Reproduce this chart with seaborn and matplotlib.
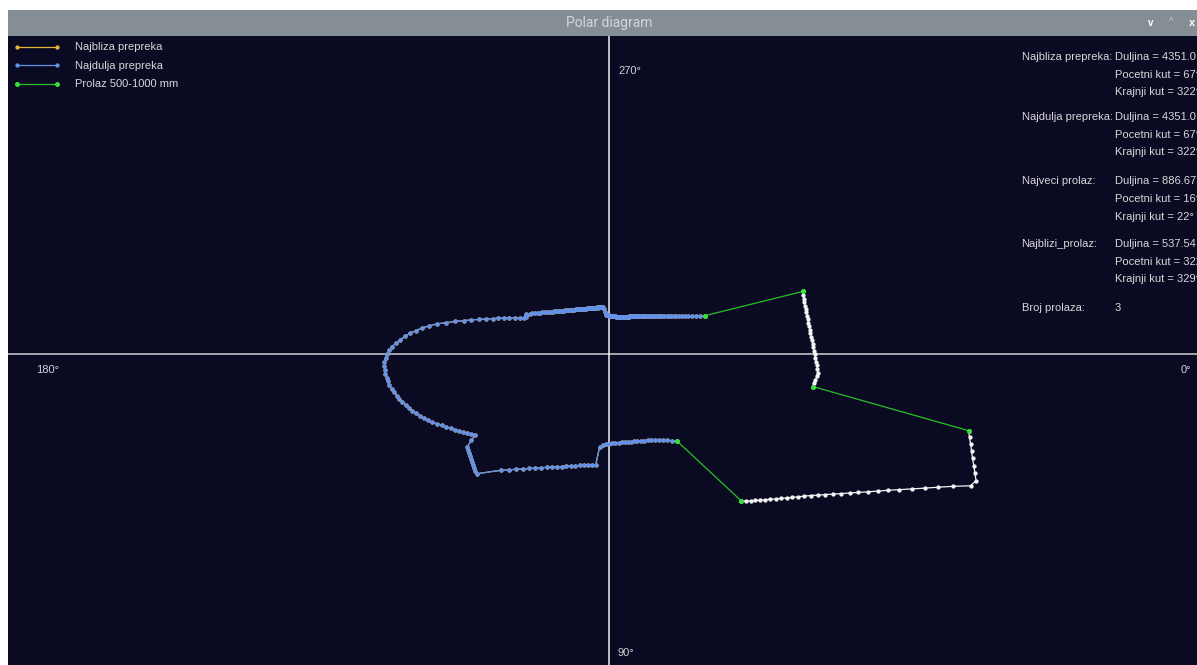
import numpy as np
import pandas as pd
import matplotlib
matplotlib.use("Agg")
import matplotlib.pyplot as plt
from matplotlib.patches import Rectangle
import seaborn as sns

# ---------------- data (scan angle in degrees, 0° = right, 90° = down; distance in cm) ----------------
# right-bottom obstacle (white)
obst_b_angles = list(range(12, 49))
obst_b_dist = [367.3, 369.7, 372.4, 375.1, 377.9, 381.2, 384.4, 387.9, 384.5, 368.3,
               354.8, 342.5, 331.0, 320.2, 310.2, 301.3, 292.9, 284.9, 277.4, 270.5,
               263.8, 257.6, 251.8, 246.2, 241.2, 236.8, 232.4, 228.2, 224.2, 220.4,
               216.7, 213.2, 209.9, 206.6, 203.5, 200.6, 197.4]

# longest / nearest obstacle (blue)
blue_lower_angles = list(range(52, 97, 2))
blue_lower_dist = [110.4, 106.7, 103.5, 101.1, 99.0, 97.1, 95.5, 94.1, 93.0, 91.9, 91.2, 90.5,
                   90.0, 89.5, 89.2, 88.9, 88.8, 88.8, 89.1, 89.3, 90.1, 91.0, 93.5]
blue_bottom_angles = list(range(97, 134, 2))
blue_bottom_dist = [111.1, 111.9, 112.8, 113.8, 115.1, 116.5, 118.0, 119.9, 121.9, 124.1,
                    126.6, 129.3, 132.3, 135.7, 139.4, 143.5, 148.0, 153.0, 158.5]
blue_left_angles = list(range(138, 206))
blue_left_dist = [178.5, 177.5, 176.5, 175.4, 174.5, 173.5, 172.5, 171.5, 170.5, 169.3,
                  162.5, 157.0, 160.0, 163.0, 166.0, 168.9, 171.9, 175.1, 178.5, 181.7,
                  185.6, 189.8, 193.2, 196.0, 198.9, 202.0, 205.0, 207.3, 209.8, 212.4,
                  214.8, 216.6, 218.5, 220.5, 222.0, 222.9, 223.9, 225.1, 225.2, 225.3,
                  225.1, 223.7, 222.4, 219.9, 217.8, 213.5, 209.4, 204.8, 200.5, 194.7,
                  189.3, 182.2, 175.0, 165.9, 157.9, 149.5, 142.3, 134.7, 128.0, 122.0,
                  116.7, 111.8, 106.8, 101.4, 96.5, 92.2, 91.4, 91.6]
blue_top_angles = list(range(206, 339))
blue_top_dist = [92.2, 89.4, 87.1, 84.8, 82.8, 80.8, 78.9, 77.1, 75.5, 73.9,
                 72.5, 71.0, 69.7, 68.5, 67.2, 66.1, 65.0, 64.1, 63.0, 62.2,
                 61.3, 60.4, 59.6, 58.8, 58.1, 57.4, 56.7, 56.1, 55.5, 54.9,
                 54.4, 53.9, 53.4, 53.0, 52.5, 52.1, 51.8, 51.4, 51.1, 50.8,
                 50.4, 50.1, 49.8, 49.6, 49.4, 49.2, 48.9, 48.7, 48.6, 48.5,
                 48.2, 48.1, 48.1, 47.9, 47.8, 47.8, 47.7, 45.4, 42.2, 39.4,
                 39.3, 39.2, 39.0, 38.9, 38.8, 38.8, 38.7, 38.7, 38.6, 38.7,
                 38.5, 38.5, 38.4, 38.3, 38.3, 38.3, 38.3, 38.4, 38.4, 38.5,
                 38.7, 38.8, 39.0, 39.2, 39.5, 39.7, 40.0, 40.3, 40.7, 41.2,
                 41.7, 42.3, 42.9, 43.6, 44.2, 44.8, 45.4, 46.0, 46.6, 47.1,
                 47.7, 48.3, 49.0, 49.7, 50.4, 51.1, 51.9, 52.8, 53.7, 54.6,
                 55.6, 56.6, 57.7, 58.8, 60.0, 61.3, 62.7, 64.1, 65.7, 67.3,
                 69.0, 70.9, 72.8, 75.0, 77.2, 79.6, 82.2, 85.0, 88.0, 91.3,
                 94.9, 98.8, 103.0]

# right-top obstacle (white)
obst_a_angles = list(range(342, 360)) + list(range(0, 10))
obst_a_dist = [203.4, 202.8, 202.2, 202.0, 201.7, 201.6, 201.4, 201.4, 201.5, 201.6,
               201.8, 202.0, 202.3, 202.6, 203.0, 203.5, 204.1, 204.8,
               205.5, 206.2, 207.0, 207.9, 208.7, 209.0, 208.9, 207.7, 206.5, 206.0]

# passages 500-1000 mm: start / end angles (end points of neighbouring obstacles)
pass_start = [9, 48, 338]
pass_end = [12, 52, 342]

legend_labels = ["Najbliza prepreka", "Najdulja prepreka", "Prolaz 500-1000 mm"]
axis_labels = ["0°", "90°", "180°", "270°"]
info_left = ["Najbliza prepreka:", "", "", "Najdulja prepreka:", "", "",
             "Najveci prolaz:", "", "", "Najblizi_prolaz:", "", "", "Broj prolaza:"]
info_right = ["Duljina = 4351.0 mm", "Pocetni kut = 67°", "Krajnji kut = 322°",
              "Duljina = 4351.0 mm", "Pocetni kut = 67°", "Krajnji kut = 322°",
              "Duljina = 886.67 mm", "Pocetni kut = 16°", "Krajnji kut = 22°",
              "Duljina = 537.54 mm", "Pocetni kut = 322°", "Krajnji kut = 329°",
              "3"]
window_title = "Polar diagram"

# ---------------- helpers ----------------
def to_xy(angles, dist):
    a = np.deg2rad(np.asarray(angles, dtype=float))
    d = np.asarray(dist, dtype=float)
    return pd.DataFrame({"x": d * np.cos(a), "y": d * np.sin(a)})

blue_df = to_xy(blue_lower_angles + blue_bottom_angles + blue_left_angles + blue_top_angles,
                blue_lower_dist + blue_bottom_dist + blue_left_dist + blue_top_dist)
a_df = to_xy(obst_a_angles, obst_a_dist)
b_df = to_xy(obst_b_angles, obst_b_dist)

all_angles = obst_a_angles + obst_b_angles + blue_lower_angles + blue_bottom_angles + blue_left_angles + blue_top_angles
all_dist = obst_a_dist + obst_b_dist + blue_lower_dist + blue_bottom_dist + blue_left_dist + blue_top_dist
lookup = dict(zip(all_angles, all_dist))

# ---------------- figure ----------------
W, H = 1197, 665
CX, CY = 609.3, 354.3
AX_L, AX_T = 8, 36

sns.set_style("dark")
plt.rcParams["font.family"] = ["Liberation Sans", "DejaVu Sans"]

fig = plt.figure(figsize=(W / 100, H / 100), dpi=100, facecolor="white")

def fx(px):
    return px / W

def fy(py):
    return 1 - py / H

# window title bar
fig.patches.append(Rectangle((fx(AX_L), fy(AX_T)), 1 - fx(AX_L), fy(10) - fy(AX_T),
                             transform=fig.transFigure, facecolor="#868e95",
                             edgecolor="none", zorder=0))
fig.text(fx(609), fy(23), window_title, color="#d3d7db", fontsize=10,
         family=["Roboto", "DejaVu Sans"], ha="center", va="center")
fig.text(fx(1151), fy(23), "v", color="white", fontsize=7, fontweight="bold", ha="center", va="center")
fig.text(fx(1171), fy(22), "^", color="#c8ccd0", fontsize=7, ha="center", va="center")
fig.text(fx(1192), fy(23), "x", color="white", fontsize=8, fontweight="bold", ha="center", va="center")

ax = fig.add_axes([fx(AX_L), 0, 1 - fx(AX_L), fy(AX_T)])
ax.set_facecolor("#0b0a23")
ax.set_xlim(AX_L - CX, W - CX)
ax.set_ylim(H - CY, AX_T - CY)
for s in ax.spines.values():
    s.set_visible(False)
ax.set_xticks([])
ax.set_yticks([])
ax.grid(False)

ax.axhline(0, color="#b2b2ba", lw=1.3, zorder=1)
ax.axvline(0, color="#f2f2f2", lw=1.1, zorder=1)

yellow = "#e2b63a"
blue = "#6491ea"
green = "#27c227"
white = "#f4f4f4"

sns.lineplot(data=blue_df, x="x", y="y", sort=False, estimator=None, ax=ax,
             color=yellow, lw=0.9, marker="o", markersize=3.1, markeredgewidth=0,
             label=legend_labels[0], zorder=2)
sns.lineplot(data=blue_df, x="x", y="y", sort=False, estimator=None, ax=ax,
             color=blue, lw=0.9, marker="o", markersize=3.1, markeredgewidth=0,
             label=legend_labels[1], zorder=3)
for df in (a_df, b_df):
    sns.lineplot(data=df, x="x", y="y", sort=False, estimator=None, ax=ax,
                 color=white, lw=0.9, marker="o", markersize=3.1, markeredgewidth=0,
                 legend=False, zorder=3)
for i, (s, e) in enumerate(zip(pass_start, pass_end)):
    pdf = to_xy([s, e], [lookup[s], lookup[e]])
    kw = dict(label=legend_labels[2]) if i == 0 else dict(legend=False)
    sns.lineplot(data=pdf, x="x", y="y", sort=False, estimator=None, ax=ax,
                 color=green, lw=0.9, marker="o", markersize=3.6, markeredgewidth=0,
                 markerfacecolor="#39e039", zorder=4, **kw)

ax.set_xlabel("")
ax.set_ylabel("")

leg = ax.legend(loc="upper left", bbox_to_anchor=((14 - AX_L) / (W - AX_L), 1 - (42.5 - AX_T) / (H - AX_T)),
                frameon=False, fontsize=8, labelcolor="#d8d8d8", numpoints=2,
                handlelength=4.2, handletextpad=1.3, labelspacing=0.76,
                borderpad=0, borderaxespad=0)

# axis direction labels
txt_kw = dict(color="#d0d0d8", fontsize=8, va="baseline", ha="left")
fig.text(fx(1181), fy(373), axis_labels[0], **txt_kw)
fig.text(fx(617.5), fy(656), axis_labels[1], **txt_kw)
fig.text(fx(36.5), fy(373), axis_labels[2], **txt_kw)
fig.text(fx(618), fy(73.5), axis_labels[3], **txt_kw)

# info panel
baselines = [60.2, 77.8, 95.2, 120.2, 137.8, 155.2, 184.2, 201.8, 219.5, 246.8, 265.2, 282.5, 310.8]
for bl, lt, rt in zip(baselines, info_left, info_right):
    if lt:
        fig.text(fx(1021.5), fy(bl), lt, color="#d8d8d8", fontsize=8, va="baseline", ha="left")
    fig.text(fx(1115), fy(bl), rt, color="#d8d8d8", fontsize=8, va="baseline", ha="left")

fig.savefig("out.png", dpi=100, facecolor=fig.get_facecolor())
